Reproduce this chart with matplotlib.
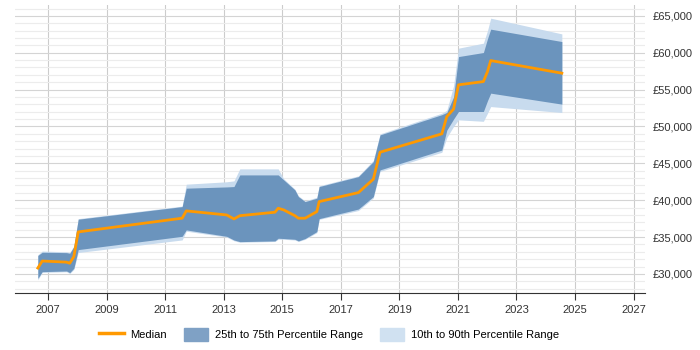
import numpy as np
import matplotlib.pyplot as plt
from matplotlib.lines import Line2D
from matplotlib.patches import Patch
from matplotlib.ticker import MultipleLocator, FuncFormatter

plt.rcParams['font.family'] = ['Liberation Sans', 'DejaVu Sans']

# data
years = [2006.65, 2006.8, 2007.63, 2007.74, 2007.88, 2008.03, 2011.58, 2011.72,
         2013.1, 2013.35, 2013.55, 2014.75, 2014.86, 2015.05, 2015.43, 2015.55,
         2015.78, 2016.18, 2016.26, 2017.6, 2018.11, 2018.34, 2020.45, 2020.62,
         2020.85, 2021.02, 2021.87, 2022.01, 2022.12, 2024.55]
median = [30800, 31750, 31600, 31450, 32350, 35700, 37560, 38550,
          38000, 37460, 37900, 38370, 38910, 38680, 37900, 37560,
          37560, 38450, 39810, 41030, 42850, 46510, 49000, 51340,
          52350, 55650, 56090, 57450, 58940, 57230]
p75 = [32500, 32940, 32890, 32800, 33700, 37420, 39130, 41630,
       41800, 41850, 43430, 43430, 43430, 42750, 41400, 40490,
       39810, 40270, 41850, 43200, 45240, 48860, 51600, 51900,
       54000, 59480, 60030, 61900, 63200, 61520]
p25 = [29400, 30310, 30400, 30180, 30770, 33300, 35100, 35970,
       35100, 34600, 34380, 34480, 34840, 34800, 34700, 34480,
       34800, 35740, 37500, 38800, 40490, 44110, 46800, 49500,
       51000, 52030, 52030, 53500, 54520, 53030]
p90 = [32600, 33100, 33000, 32900, 33800, 37500, 39200, 42170,
       42500, 42620, 44250, 44250, 44250, 42900, 41500, 40600,
       39900, 40400, 41950, 43300, 45400, 49000, 51800, 52200,
       55500, 60620, 61300, 63000, 64690, 62560]
p10 = [29200, 30200, 30300, 30050, 30600, 32900, 34610, 35800,
       35000, 34500, 34300, 34400, 34700, 34700, 34600, 34400,
       34700, 35600, 37400, 38600, 40300, 43900, 46500, 48500,
       50000, 50900, 50700, 51800, 52700, 51890]

dark = '#6b94bd'
light = '#c8dbee'
orange = '#ff9900'

fig = plt.figure(figsize=(7, 3.5), dpi=100)
ax = fig.add_axes([0.021, 0.163, 0.9, 0.823])

ax.fill_between(years, p10, p90, color=light, lw=0, zorder=2)
ax.fill_between(years, p25, p75, color=dark, lw=0, zorder=3)
ax.plot(years, median, color=orange, lw=2, zorder=4)

ax.set_xlim(2005.86, 2027.38)
ax.set_ylim(27420, 66490)
ax.set_xticks(range(2007, 2028, 2))
ax.yaxis.set_major_locator(MultipleLocator(5000))
ax.yaxis.set_minor_locator(MultipleLocator(1000))
ax.yaxis.set_major_formatter(FuncFormatter(lambda v, p: '£{:,.0f}'.format(v)))
ax.yaxis.tick_right()

ax.grid(axis='x', color='#cccccc', lw=0.8, zorder=0)
ax.grid(axis='y', which='major', color='#d4d4d4', lw=0.8, zorder=0)
ax.grid(axis='y', which='minor', color='#ececec', lw=0.8, zorder=0)
ax.set_axisbelow(True)

for s in ['top', 'left', 'right']:
    ax.spines[s].set_visible(False)
ax.spines['bottom'].set_color('#333333')
ax.tick_params(axis='y', which='both', length=0, labelsize=8, colors='#333333', pad=6)
ax.tick_params(axis='x', length=5, color='#333333', labelsize=8, labelcolor='#333333')

handles = [Line2D([], [], color=orange, lw=2.5),
           Patch(color='#7fa1c5'),
           Patch(color='#d0e1f1')]
labels = ['Median', '25th to 75th Percentile Range', '10th to 90th Percentile Range']
fig.legend(handles, labels, loc='center', bbox_to_anchor=(0.47, 0.045), ncol=3,
           frameon=False, fontsize=8, handlelength=2.2, handleheight=1.4,
           columnspacing=1.5, handletextpad=0.6)

fig.savefig('out.png')
